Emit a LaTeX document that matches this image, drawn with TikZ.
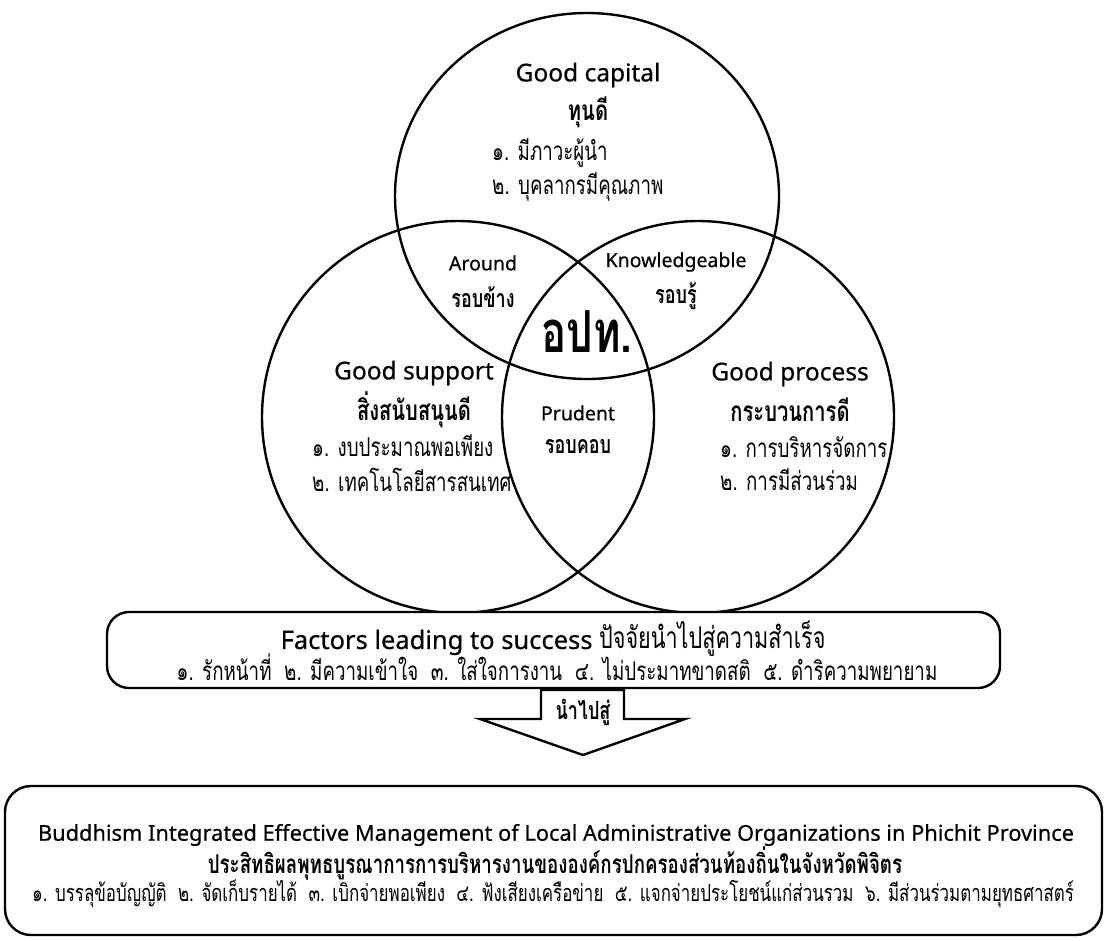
\documentclass[tikz,border=0pt]{standalone}
\usepackage{fontspec}
\setmainfont{Noto Sans}[FakeBold=0.5]
\newfontfamily\thai[Script=Thai, FakeStretch=0.72]{Loma}
\begin{document}
\begin{tikzpicture}[x=1pt,y=-1pt,
  ring/.style={line width=2.4pt},
  frame/.style={line width=2.4pt, rounded corners=#1},
  fs/.style={font=\fontsize{#1}{#1}\selectfont},
  head/.style={inner sep=0pt, fs=24.5},
  thaihead/.style={inner sep=0pt, font=\fontsize{28}{28}\selectfont\thai\bfseries},
  item/.style={inner sep=0pt, anchor=west, font=\fontsize{26}{26}\selectfont\thai},
  mid/.style={inner sep=0pt, fs=19.5},
  thaimid/.style={inner sep=0pt, font=\fontsize{25}{25}\selectfont\thai\bfseries}]
\useasboundingbox (0,0) rectangle (1107,940);

% three overlapping circles
\draw[ring] (587,196) ellipse [x radius=192, y radius=183];
\draw[ring] (458,417) circle [radius=196];
\draw[ring] (698,417) circle [radius=196];

% Good capital
\node[head] (cap) at (588,75) {Good capital};
\node[thaihead] (capth) at (588,112) {ทุนดี};
\node[item] (cap1) at (492,153) {๑. มีภาวะผู้นำ};
\node[item] (cap2) at (492,187) {๒. บุคลากรมีคุณภาพ};

% Good support
\node[head] (sup) at (414,373) {Good support};
\node[thaihead] (supth) at (414,410) {สิ่งสนับสนุนดี};
\node[item] (sup1) at (312,446) {๑. งบประมาณพอเพียง};
\node[item] (sup2) at (312,480) {๒. เทคโนโลยีสารสนเทศ};

% Good process
\node[head] (pro) at (790,374) {Good process};
\node[thaihead] (proth) at (790,410) {กระบวนการดี};
\node[item] (pro1) at (720,447) {๑. การบริหารจัดการ};
\node[item] (pro2) at (720,480) {๒. การมีส่วนร่วม};

% overlap labels
\node[mid] (ar) at (483,263) {Around};
\node[thaimid] (arth) at (483,297) {รอบข้าง};
\node[mid] (kn) at (676,262) {Knowledgeable};
\node[thaimid] (knth) at (676,296) {รอบรู้};
\node[mid] (pr) at (578,413) {Prudent};
\node[thaimid] (prth) at (578,447) {รอบคอบ};
\node[inner sep=0pt, font=\fontsize{58}{58}\selectfont\thai\bfseries] (core) at (587,332) {อปท.};

% factors box
\draw[frame=22, fill=white] (107,612) rectangle (1000,688);
\node[inner sep=0pt, fs=25.5] (fac) at (553,639) {Factors leading to success {\fontsize{30}{30}\selectfont\thai ปัจจัยนำไปสู่ความสำเร็จ}};
\node[inner sep=0pt, font=\fontsize{26}{26}\selectfont\thai] (facl) at (557,667) {๑. รักหน้าที่\ \ ๒. มีความเข้าใจ\ \ ๓. ใส่ใจการงาน\ \ ๔. ไม่ประมาทขาดสติ\ \ ๕. ดำริความพยายาม};

% block arrow
\draw[line width=2.4pt, line join=miter] (541,690) -- (624,690) -- (624,719) -- (685,719) -- (583,755) -- (480,719) -- (541,719) -- cycle;
\node[inner sep=0pt, font=\fontsize{25}{25}\selectfont\thai\bfseries] (lead) at (583,712) {นำไปสู่};

% result box
\draw[frame=26] (5,786) rectangle (1102,935);
\node[inner sep=0pt, fs=21.8] (res) at (556,835) {Buddhism Integrated Effective Management of Local Administrative Organizations in Phichit Province};
\node[inner sep=0pt, font=\fontsize{26}{26}\selectfont\thai\bfseries] (resth) at (555,864) {ประสิทธิผลพุทธบูรณาการการบริหารงานขององค์กรปกครองส่วนท้องถิ่นในจังหวัดพิจิตร};
\node[inner sep=0pt, font=\fontsize{23.5}{23.5}\selectfont\thai] (resl) at (553,894) {๑. บรรลุข้อบัญญัติ\ \ ๒. จัดเก็บรายได้\ \ ๓. เบิกจ่ายพอเพียง\ \ ๔. ฟังเสียงเครือข่าย\ \ ๕. แจกจ่ายประโยชน์แก่ส่วนรวม\ \ ๖. มีส่วนร่วมตามยุทธศาสตร์};
\end{tikzpicture}
\end{document}
